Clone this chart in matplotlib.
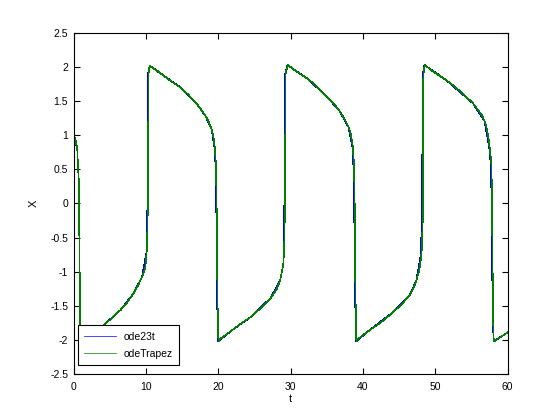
import matplotlib.pyplot as plt

# odeTrapez loesning (lest av bildet)
t_trapez = [0, 0.25, 0.5, 0.55, 0.73, 0.83, 0.9, 0.95, 1.0,
            1.5, 2.0, 3.0, 4.4, 5.5, 6.5, 7.4, 8.2, 8.8, 9.45, 9.9, 10.1, 10.2, 10.3, 10.35, 10.5,
            11.5, 12.5, 13.5, 14.8, 15.8, 16.8, 17.6, 18.2, 18.7, 19.1, 19.35, 19.55, 19.7, 19.8, 19.9, 20.0, 20.05,
            20.2, 21.0, 22.0, 23.0, 24.4, 25.8, 27.2, 28.0, 28.55, 29.0, 29.15, 29.25, 29.3, 29.6,
            30.5, 31.3, 32.2, 33.5, 35.0, 36.0, 36.8, 37.5, 38.0, 38.35, 38.6, 38.78, 38.85, 38.95, 39.05, 39.1,
            39.3, 40.0, 41.0, 42.3, 43.2, 44.2, 45.4, 46.5, 47.0, 47.4, 47.8, 48.1, 48.25, 48.3, 48.35, 48.55,
            49.5, 50.5, 51.5, 52.6, 53.8, 55.2, 55.9, 56.4, 56.8, 57.05, 57.3, 57.5, 57.75, 57.85, 57.95, 58.05, 58.1,
            58.6, 59.3, 60.0]
x_trapez = [1.0, 0.93, 0.81, 0.66, 0.30, -1.0, -1.75, -1.97, -2.02,
            -1.99, -1.96, -1.89, -1.76, -1.66, -1.56, -1.45, -1.33, -1.22, -1.08, -0.95, -0.70, -0.40, 0.3, 1.9, 2.02,
            1.95, 1.87, 1.79, 1.70, 1.60, 1.49, 1.38, 1.29, 1.19, 1.08, 0.96, 0.78, 0.5, -0.3, -1.5, -1.95, -2.02,
            -1.99, -1.93, -1.85, -1.77, -1.67, -1.54, -1.39, -1.27, -1.13, -0.88, -0.5, 0.5, 1.9, 2.03,
            1.96, 1.90, 1.84, 1.73, 1.57, 1.46, 1.35, 1.23, 1.12, 1.0, 0.83, 0.54, 0.0, -1.2, -1.95, -2.02,
            -1.99, -1.93, -1.85, -1.76, -1.68, -1.59, -1.47, -1.34, -1.24, -1.12, -0.97, -0.73, -0.3, 0.8, 1.9, 2.03,
            1.95, 1.88, 1.81, 1.72, 1.61, 1.47, 1.37, 1.30, 1.21, 1.13, 1.0, 0.83, 0.59, 0.0, -1.3, -1.95, -2.02,
            -1.99, -1.94, -1.89]

# ode23t loesning (litt tidligere overganger)
t_23t = [0, 0.5, 0.55, 0.73, 0.83, 0.9, 1.0,
         2.0, 4.4, 6.5, 8.2, 9.45, 10.1, 10.25, 10.3, 10.5,
         12.5, 14.8, 16.8, 18.2, 19.1, 19.5, 19.65, 19.75, 19.85, 20.0,
         22.0, 24.4, 27.2, 28.55, 29.0, 29.1, 29.2, 29.25, 29.55,
         32.2, 35.0, 36.8, 38.0, 38.55, 38.7, 38.8, 38.9, 39.05,
         41.0, 44.2, 46.5, 47.4, 48.0, 48.15, 48.22, 48.28, 48.5,
         51.5, 55.2, 56.8, 57.45, 57.7, 57.8, 57.9, 58.05,
         59.3, 60.0]
x_23t = [1.0, 0.81, 0.66, 0.30, -1.0, -1.75, -2.02,
         -1.96, -1.76, -1.56, -1.33, -1.08, -0.70, 0.3, 1.9, 2.02,
         1.87, 1.70, 1.49, 1.29, 1.08, 0.8, 0.5, -0.3, -1.5, -2.02,
         -1.85, -1.67, -1.39, -1.13, -0.88, -0.3, 0.6, 1.9, 2.03,
         1.84, 1.57, 1.35, 1.12, 0.83, 0.5, -0.2, -1.3, -2.02,
         -1.85, -1.59, -1.34, -1.12, -0.75, -0.2, 0.9, 1.9, 2.03,
         1.81, 1.47, 1.21, 0.83, 0.55, -0.1, -1.3, -2.02,
         -1.94, -1.89]

plt.rcParams['font.family'] = ['Liberation Sans', 'DejaVu Sans']
plt.rcParams['axes.unicode_minus'] = False

fig = plt.figure(figsize=(5.6, 4.2), dpi=100)
ax = fig.add_axes([0.1315, 0.1095, 0.775, 0.812])

ax.plot(t_23t, x_23t, color=(0, 0, 1), lw=0.5, label='ode23t', antialiased=False)
ax.plot(t_trapez, x_trapez, color=(0, 0.5, 0), lw=0.5, label='odeTrapez', antialiased=False)

ax.set_xlim(0, 60)
ax.set_ylim(-2.5, 2.5)
ax.set_xticks([0, 10, 20, 30, 40, 50, 60])
ax.set_yticks([-2.5, -2, -1.5, -1, -0.5, 0, 0.5, 1, 1.5, 2, 2.5])
ax.set_yticklabels(['-2.5', '-2', '-1.5', '-1', '-0.5', '0', '0.5', '1', '1.5', '2', '2.5'])
ax.tick_params(direction='in', length=4, width=0.8, top=True, right=True, labelsize=7.5)
ax.tick_params(axis='x', pad=6)
ax.tick_params(axis='y', pad=4)
for s in ax.spines.values():
    s.set_linewidth(0.8)

ax.set_xlabel('t', fontsize=8, labelpad=1)
ax.set_ylabel('X', fontsize=8, labelpad=8)

leg = ax.legend(loc='lower left', bbox_to_anchor=(0.0106, 0.026), borderaxespad=0,
                fancybox=False, edgecolor='black', framealpha=1, fontsize=7.5,
                handlelength=3.0, handletextpad=0.8, borderpad=0.6, labelspacing=0.7)
leg.get_frame().set_linewidth(0.8)

plt.savefig('out.png', dpi=100)
